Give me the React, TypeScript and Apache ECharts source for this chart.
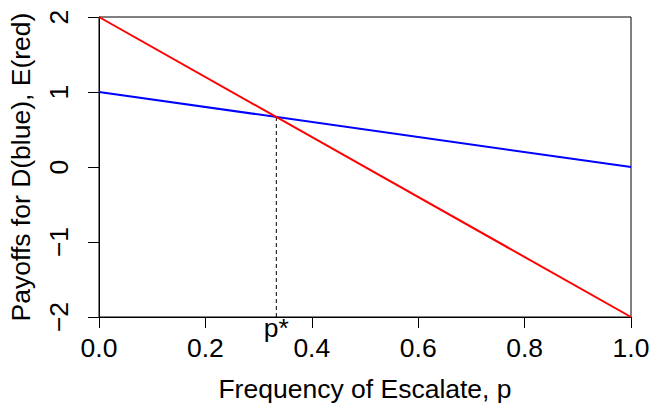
import React, { useEffect, useRef } from "react";
import * as echarts from "echarts";

const pValues = [0, 1];
const blueD = [1, 0];
const redE = [2, -2];
const pStar = 1 / 3;
const payoffStar = 2 / 3;
const pStarLabel = "p*";
const xTitle = "Frequency of Escalate, p";
const yTitle = "Payoffs for D(blue), E(red)";

const FONT = "Liberation Sans";
const FS = 26.5;

export default function App() {
  const ref = useRef<HTMLDivElement>(null);
  useEffect(() => {
    if (!ref.current) return;
    const chart = echarts.init(ref.current, null, { renderer: "svg" });
    chart.setOption({
      animation: false,
      backgroundColor: "#ffffff",
      textStyle: { fontFamily: FONT },
      grid: {
        left: 99,
        right: 20,
        top: 17,
        bottom: 87,
        show: true,
        borderColor: "#000",
        borderWidth: 1,
        backgroundColor: "transparent",
        containLabel: false,
        outerBoundsMode: "none",
      },
      xAxis: {
        type: "value",
        min: 0,
        max: 1,
        interval: 0.2,
        name: xTitle,
        nameLocation: "middle",
        nameGap: 58,
        nameTextStyle: { fontFamily: FONT, fontSize: FS, color: "#000" },
        axisLine: { show: true, onZero: false, lineStyle: { color: "#000", width: 1 } },
        axisTick: { show: true, inside: false, length: 11, lineStyle: { color: "#000" } },
        axisLabel: {
          fontFamily: FONT,
          fontSize: FS,
          color: "#000",
          margin: 17,
          formatter: (v: number) => v.toFixed(1),
        },
        splitLine: { show: false },
      },
      yAxis: {
        type: "value",
        min: -2,
        max: 2,
        interval: 1,
        name: yTitle,
        nameLocation: "middle",
        nameRotate: 90,
        nameGap: 65,
        nameTextStyle: { fontFamily: FONT, fontSize: FS, color: "#000" },
        axisLine: { show: true, onZero: false, lineStyle: { color: "#000", width: 1 } },
        axisTick: { show: true, inside: false, length: 11, lineStyle: { color: "#000" } },
        axisLabel: {
          fontFamily: FONT,
          fontSize: FS,
          color: "#000",
          rotate: 90,
          margin: 27,
          formatter: (v: number) => (v < 0 ? "\u2212" + Math.abs(v) : String(v)),
        },
        splitLine: { show: false },
      },
      series: [
        {
          type: "line",
          data: pValues.map((p, i) => [p, blueD[i]]),
          showSymbol: false,
          lineStyle: { color: "#0000ff", width: 2 },
          z: 3,
        },
        {
          type: "line",
          data: pValues.map((p, i) => [p, redE[i]]),
          showSymbol: false,
          lineStyle: { color: "#ff0000", width: 2 },
          z: 4,
        },
        {
          type: "line",
          data: [
            [pStar, payoffStar],
            [pStar, -2],
          ],
          showSymbol: false,
          lineStyle: { color: "#000", width: 1, type: [4, 3] },
          z: 2,
        },
        {
          type: "scatter",
          data: [[pStar, -2]],
          symbolSize: 0,
          silent: true,
          itemStyle: { opacity: 1, color: "#000" },
          label: {
            show: true,
            position: "bottom",
            distance: -3,
            formatter: pStarLabel,
            fontFamily: FONT,
            fontSize: FS,
            color: "#000",
            opacity: 1,
          },
          z: 5,
        },
      ],
    });
    return () => chart.dispose();
  }, []);
  return <div ref={ref} style={{ width: 651, height: 404, position: "absolute", left: 0, top: 0 }} />;
}
